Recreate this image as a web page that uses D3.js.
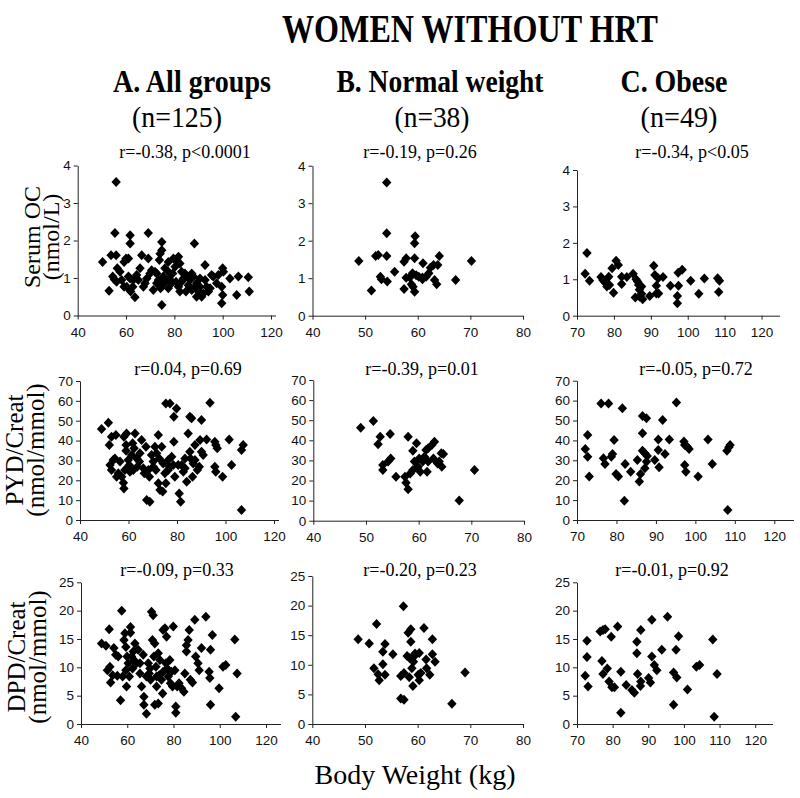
<!DOCTYPE html>
<html><head><meta charset="utf-8">
<script src="https://cdn.jsdelivr.net/npm/d3@7"></script>
<style>body{margin:0;background:#fff}</style>
</head><body>
<svg id="c" width="800" height="798"></svg>
<script>
// ---------- DATA ([body weight kg, value]) ----------
const groupTitles = ["A. All groups", "B. Normal weight", "C. Obese"];
const groupN = ["(n=125)", "(n=38)", "(n=49)"];
const rowTitles = [["Serum OC", "(nmol/L)"], ["PYD/Creat", "(nmol/mmol)"], ["DPD/Creat", "(nmol/mmol)"]];
const stats = [
  ["r=-0.38, p<0.0001", "r=-0.19, p=0.26", "r=-0.34, p<0.05"],
  ["r=0.04, p=0.69", "r=-0.39, p=0.01", "r=-0.05, p=0.72"],
  ["r=-0.09, p=0.33", "r=-0.20, p=0.23", "r=-0.01, p=0.92"]
];
const xTicksAll = [40, 60, 80, 100, 120];
const xTicksNormal = [40, 50, 60, 70, 80];
const xTicksObese = [70, 80, 90, 100, 110, 120];
const yTicksOC = [0, 1, 2, 3, 4];
const yTicksPYD = [0, 10, 20, 30, 40, 50, 60, 70];
const yTicksDPD = [0, 5, 10, 15, 20, 25];

const ocAll = [[50.3,1.43],[53.0,0.66],[53.8,1.61],[55.9,1.61],[55.4,2.20],[55.9,3.56],[54.5,1.04],[55.2,0.96],[56.1,0.90],[57.5,1.17],[59.2,1.43],[60.0,1.52],[61.0,1.52],[59.2,0.77],[60.3,0.77],[61.0,1.04],[61.7,0.99],[61.7,2.14],[61.7,1.92],[61.9,0.64],[63.7,0.49],[63.0,0.95],[64.4,1.08],[65.1,0.95],[65.8,1.26],[66.5,1.61],[67.2,0.77],[67.9,0.86],[69.2,2.20],[69.2,1.52],[69.9,1.12],[70.6,1.21],[71.3,0.68],[72.0,1.17],[72.7,1.12],[73.8,1.48],[74.1,1.65],[74.8,1.96],[74.8,1.74],[74.8,0.28],[75.4,1.04],[76.1,1.26],[76.8,0.95],[77.5,1.17],[77.5,0.73],[78.2,0.96],[78.9,0.86],[79.6,1.52],[80.3,1.30],[81.0,1.48],[81.7,1.57],[82.3,1.39],[81.7,0.77],[82.3,0.64],[83.0,0.90],[83.7,0.99],[84.4,1.12],[85.1,1.04],[85.8,0.81],[87.2,1.12],[87.9,1.04],[88.3,1.92],[88.6,0.77],[89.2,0.50],[89.9,0.64],[90.6,0.77],[91.3,0.50],[92.0,0.59],[92.7,1.35],[92.7,0.95],[93.4,0.77],[94.1,0.64],[95.4,1.08],[97.5,0.86],[100.0,1.26],[100.3,1.17],[99.6,0.77],[100.0,0.55],[99.6,0.33],[103.0,0.99],[106.5,1.04],[105.8,0.55],[110.6,1.02],[111.0,0.64],[56.4,1.26],[58.2,0.95],[62.8,0.77],[68.6,0.99],[73.4,0.95],[74.3,0.73],[75.7,0.86],[79.3,1.12],[80.7,0.90],[83.0,1.17],[86.5,0.95],[89.2,0.86],[90.6,0.99],[94.8,0.73],[96.1,1.04],[98.2,1.08],[87.2,0.68],[84.8,0.64],[77.5,1.43],[72.7,0.86]];
const ocNormal = [[48.8,1.46],[51.2,0.67],[52.0,1.59],[52.5,1.62],[52.9,1.04],[53.1,0.97],[54.1,3.55],[54.1,2.2],[54.1,1.59],[54.2,0.91],[55.6,1.17],[57.4,1.44],[57.8,1.53],[57.4,0.71],[57.8,1.01],[58.5,1.02],[58.8,0.84],[59.1,0.77],[59.4,0.64],[59.0,1.13],[59.4,1.93],[59.5,2.12],[59.4,1.53],[59.7,1.08],[60.2,1.04],[60.9,1.02],[60.9,0.97],[61.0,1.40],[61.6,1.04],[62.1,1.13],[62.4,1.28],[63.0,1.35],[63.2,0.95],[63.6,0.84],[63.8,1.35],[64.1,1.59],[67.2,0.95],[70.2,1.46]];
const ocObese = [[72.7,1.72],[72.2,1.15],[73.4,0.96],[76.5,1.06],[77.0,0.98],[77.6,0.91],[78.1,0.80],[78.6,1.07],[78.8,0.84],[79.5,1.30],[79.9,0.63],[80.6,1.51],[81.2,1.39],[82.1,1.07],[82.1,0.87],[83.5,1.06],[85.2,1.15],[86.0,1.0],[85.8,0.50],[86.4,0.94],[86.7,0.84],[86.9,0.71],[87.0,0.52],[87.5,0.80],[87.8,0.45],[87.5,0.60],[89.7,0.54],[90.8,1.37],[91.1,1.12],[91.5,0.61],[91.5,0.82],[92.0,1.03],[92.1,0.61],[93.3,1.06],[95.3,0.82],[97.4,1.18],[97.5,0.82],[97.2,0.54],[97.2,0.34],[98.5,1.26],[100.8,0.96],[103.0,0.60],[104.5,1.02],[108.1,1.03],[108.6,0.96],[108.4,0.65]];

const pydAll = [[48.9,45.8],[51.7,49.0],[52.1,37.8],[53.0,41.9],[54.8,42.8],[52.4,27.7],[53.0,25.2],[53.7,30.2],[54.4,31.0],[55.1,21.8],[55.8,23.5],[57.2,21.8],[57.9,18.8],[58.1,15.9],[58.5,25.2],[58.1,41.9],[59.2,43.6],[59.0,37.8],[59.0,34.9],[59.9,30.2],[60.3,27.7],[60.6,24.3],[61.3,32.7],[61.7,38.6],[62.3,36.1],[62.7,43.6],[63.4,31.0],[63.6,26.8],[64.5,29.4],[65.4,40.3],[66.1,26.0],[66.5,23.5],[67.2,36.9],[67.5,10.1],[68.8,9.2],[68.2,25.2],[68.6,21.8],[69.5,32.7],[70.2,29.4],[70.9,36.9],[71.3,25.2],[72.3,42.8],[72.3,18.5],[72.7,31.0],[73.0,15.1],[73.7,36.9],[74.1,14.3],[74.3,28.5],[75.0,23.5],[75.4,18.5],[75.4,58.7],[77.1,58.7],[76.4,30.2],[76.8,26.8],[77.8,31.9],[78.5,27.7],[78.7,52.0],[78.7,39.4],[79.1,21.8],[79.8,56.2],[80.5,27.7],[80.9,13.4],[81.5,9.2],[81.9,27.7],[82.6,24.3],[83.3,26.0],[84.0,19.3],[84.6,43.6],[85.3,52.0],[86.0,51.2],[85.3,34.4],[85.6,31.0],[86.4,21.8],[86.7,28.5],[87.4,30.2],[88.4,25.2],[89.2,26.8],[89.5,40.3],[90.1,50.3],[90.1,34.4],[90.8,32.7],[92.2,40.6],[93.6,59.1],[95.6,39.4],[96.0,37.8],[96.6,36.1],[95.6,26.8],[96.0,24.3],[98.8,21.8],[101.5,40.6],[102.5,27.7],[106.6,35.2],[107.3,37.8],[106.6,5.0],[62.0,25.2],[64.7,33.6],[70.2,26.8],[71.6,33.6],[76.4,25.2],[83.3,31.0],[87.4,37.8],[56.5,29.4]];
const pydNormal = [[49.0,46.3],[51.4,49.6],[52.7,41.8],[52.3,38.0],[54.6,43.1],[53.2,27.7],[53.2,25.2],[54.2,29.4],[54.7,31.0],[55.7,21.9],[58.0,41.8],[57.4,21.9],[57.6,18.9],[58.0,15.6],[58.4,23.5],[58.9,25.2],[58.9,34.8],[59.2,29.4],[59.6,38.5],[59.9,26.9],[60.1,31.0],[60.3,24.4],[60.8,29.4],[61.1,31.8],[61.4,35.2],[61.8,36.0],[61.6,24.4],[62.5,37.6],[63.0,39.3],[62.8,31.0],[63.6,28.5],[63.9,29.4],[64.3,33.5],[64.7,33.2],[64.4,26.9],[67.7,10.0],[70.6,25.2],[61.8,29.4]];
const pydObese = [[72.1,35.7],[72.7,42.7],[72.7,31.8],[73.1,21.8],[76.1,58.6],[76.7,31.0],[77.1,28.1],[78.0,58.6],[78.7,31.8],[79.0,33.2],[79.4,40.2],[79.9,23.1],[80.5,21.8],[81.5,56.1],[82.2,28.1],[82.0,9.7],[83.6,24.3],[85.3,30.2],[85.8,19.3],[86.1,23.1],[86.6,52.3],[86.6,43.6],[86.6,34.8],[87.2,33.5],[87.6,51.1],[87.6,29.3],[87.2,26.0],[87.8,32.2],[89.7,30.2],[90.6,40.5],[90.6,35.2],[90.8,26.5],[91.7,50.3],[92.3,33.2],[93.4,40.5],[95.2,59.0],[97.1,39.4],[97.3,37.7],[97.9,36.9],[98.4,35.7],[97.3,27.6],[97.6,24.3],[100.7,21.8],[103.2,40.5],[104.3,28.1],[108.0,34.8],[108.5,36.5],[108.8,37.7],[108.2,5.0]];

const dpdAll = [[48.9,14.2],[50.8,13.8],[52.2,16.7],[51.4,9.5],[52.5,10.1],[52.8,7.3],[53.7,8.6],[54.2,13.4],[55.0,12.2],[55.7,8.5],[56.1,11.9],[57.1,4.2],[57.6,20.0],[58.0,8.4],[58.6,14.8],[59.0,16.0],[59.4,13.6],[59.4,9.5],[59.7,6.6],[59.9,11.9],[60.4,10.7],[60.9,8.4],[61.4,17.1],[61.4,16.1],[61.9,11.9],[62.3,9.8],[62.9,11.3],[63.3,14.2],[64.0,10.7],[64.7,13.1],[65.5,8.9],[66.2,6.6],[66.9,12.2],[67.2,4.8],[67.2,3.4],[68.3,1.8],[69.1,10.7],[69.5,8.9],[70.1,7.8],[70.5,19.8],[71.2,19.2],[70.9,14.8],[71.9,14.2],[71.5,11.9],[72.4,10.1],[72.7,6.6],[71.9,3.4],[73.4,3.6],[73.8,8.6],[74.1,11.3],[74.8,7.8],[75.3,5.4],[75.5,16.6],[76.3,16.9],[77.0,15.4],[76.7,10.7],[77.3,9.8],[77.7,8.4],[78.4,11.3],[78.7,7.2],[79.6,6.6],[79.9,17.2],[80.6,9.5],[81.0,3.1],[81.0,2.0],[81.6,6.6],[82.4,7.2],[83.5,6.3],[84.5,5.7],[84.9,8.9],[85.6,13.9],[85.6,12.8],[86.3,14.8],[86.8,16.6],[87.3,7.8],[88.2,7.3],[89.2,18.4],[89.6,11.9],[90.6,10.7],[91.1,9.5],[92.1,13.4],[94.0,18.9],[95.4,9.2],[95.7,8.1],[96.0,13.1],[96.0,3.4],[96.8,15.7],[101.4,10.1],[102.6,10.4],[99.7,6.3],[106.5,14.9],[107.5,8.9],[106.9,1.3],[68.3,8.4],[69.8,9.8],[73.4,12.5],[75.5,9.2],[65.5,10.7],[62.6,12.8],[79.1,9.2],[72.7,8.4]];
const dpdNormal = [[48.7,14.3],[50.8,13.6],[52.2,16.9],[51.7,9.4],[52.5,8.4],[52.7,7.4],[53.4,10.1],[53.4,12.2],[53.8,13.5],[53.8,8.3],[55.3,11.8],[56.8,8.1],[56.8,4.3],[57.3,19.9],[57.4,8.6],[57.4,4.1],[58.0,11.5],[58.2,15.4],[58.4,7.9],[58.5,11.1],[58.7,16.0],[58.7,13.9],[58.9,9.4],[59.1,6.4],[59.2,10.5],[59.3,11.4],[59.5,11.9],[60.1,8.3],[60.3,12.0],[60.3,7.4],[60.6,8.6],[61.2,16.2],[61.6,10.9],[61.7,9.4],[62.3,8.3],[62.8,14.3],[62.8,11.8],[63.3,10.5],[66.5,3.4],[69.0,8.7]];
const dpdObese = [[72.3,8.5],[72.8,14.7],[72.8,11.8],[73.1,6.6],[76.5,16.3],[77.3,16.6],[77.9,16.7],[77.0,11.1],[77.3,8.8],[78.5,9.8],[79.0,7.5],[79.6,15.4],[79.8,6.5],[80.5,6.5],[81.4,17.2],[82.3,9.2],[82.3,2.0],[83.8,6.9],[85.4,6.0],[86.1,5.5],[86.8,12.5],[86.8,14.5],[87.0,8.8],[87.9,16.6],[87.9,7.5],[87.8,6.7],[90.1,8.1],[90.6,7.3],[91.0,18.4],[91.0,11.9],[91.7,10.4],[92.4,9.5],[93.8,13.1],[95.4,18.9],[97.1,9.1],[97.1,3.4],[97.8,13.1],[98.0,8.2],[98.5,15.5],[101.0,6.1],[103.5,10.1],[104.4,10.4],[108.1,14.9],[108.5,1.3],[109.3,8.8]];

// ---------- LAYOUT ----------
const svg = d3.select("#c");
const serif = "'Liberation Serif','Times New Roman',serif";
const sans = "'Liberation Sans',Arial,sans-serif";

const panels = [
  // row 1
  {d: ocAll,    xd:[40,120], xr:[77.7,271], xEnd:276, xt:xTicksAll,    yd:[0,4],  yr:[315.5,165.5], yt:yTicksOC,  s:stats[0][0], sx:185, sy:158},
  {d: ocNormal, xd:[40,80],  xr:[312.5,523], xEnd:523, xt:xTicksNormal, yd:[0,4],  yr:[315.7,165.7], yt:yTicksOC,  s:stats[0][1], sx:420, sy:158},
  {d: ocObese,  xd:[70,125], xr:[577,780], xEnd:780, xt:xTicksObese,  yd:[0,4],  yr:[315.7,170],   yt:yTicksOC,  s:stats[0][2], sx:692, sy:158},
  // row 2
  {d: pydAll,    xd:[40,120], xr:[80,274], xEnd:279, xt:xTicksAll,    yd:[0,70], yr:[520,381],   yt:yTicksPYD, s:stats[1][0], sx:188, sy:375},
  {d: pydNormal, xd:[40,80],  xr:[313.3,524], xEnd:524, xt:xTicksNormal, yd:[0,70], yr:[520.7,380], yt:yTicksPYD, s:stats[1][1], sx:422, sy:375},
  {d: pydObese,  xd:[70,125], xr:[577,794], xEnd:794, xt:xTicksObese,  yd:[0,70], yr:[520,380.7], yt:yTicksPYD, s:stats[1][2], sx:696, sy:375},
  // row 3
  {d: dpdAll,    xd:[40,120], xr:[81,266], xEnd:281, xt:xTicksAll,    yd:[0,25], yr:[724,582.3], yt:yTicksDPD, s:stats[2][0], sx:177, sy:576},
  {d: dpdNormal, xd:[40,80],  xr:[312.3,523], xEnd:523, xt:xTicksNormal, yd:[0,25], yr:[724,576], yt:yTicksDPD, s:stats[2][1], sx:420, sy:576},
  {d: dpdObese,  xd:[70,125], xr:[577,773], xEnd:773, xt:xTicksObese,  yd:[0,25], yr:[724,582.3], yt:yTicksDPD, s:stats[2][2], sx:672, sy:576}
];

const diamond = "M0,-5L4.7,0L0,5L-4.7,0Z";

panels.forEach(p => {
  const x = d3.scaleLinear().domain(p.xd).range(p.xr);
  const y = d3.scaleLinear().domain(p.yd).range(p.yr);
  const g = svg.append("g");

  // x axis
  const xa = g.append("g").attr("transform", `translate(0,${p.yr[0]})`)
    .call(d3.axisBottom(x).tickValues(p.xt).tickSize(4).tickSizeOuter(0).tickFormat(d3.format("d")));
  xa.select(".domain").remove();
  xa.append("line").attr("x1", p.xr[0]).attr("x2", p.xEnd).attr("y1", 0.5).attr("y2", 0.5)
    .attr("stroke", "#222").attr("stroke-width", 1);
  xa.selectAll(".tick line").attr("stroke", "#222");
  xa.selectAll(".tick text").attr("font-family", sans).attr("font-size", 13.5).attr("fill", "#111").attr("dy", "1.05em");

  // y axis
  const ya = g.append("g").attr("transform", `translate(${p.xr[0]},0)`)
    .call(d3.axisLeft(y).tickValues(p.yt).tickSize(4).tickSizeOuter(0).tickFormat(d3.format("d")));
  ya.select(".domain").attr("stroke", "#222");
  ya.selectAll(".tick line").attr("stroke", "#222");
  ya.selectAll(".tick text").attr("font-family", sans).attr("font-size", 13.5).attr("fill", "#111").attr("x", -7);

  // points
  g.append("g").selectAll("path").data(p.d).enter().append("path")
    .attr("d", diamond)
    .attr("transform", d => `translate(${x(d[0])},${y(d[1])})`)
    .attr("fill", "#000");

  // stats text
  g.append("text").attr("x", p.sx).attr("y", p.sy).attr("text-anchor", "middle")
    .attr("font-family", serif).attr("font-size", 18).attr("fill", "#000").text(p.s);
});

// Title
svg.append("text").attr("x", 470).attr("y", 42).attr("text-anchor", "middle")
  .attr("font-family", serif).attr("font-weight", "bold").attr("font-size", 40)
  .attr("textLength", 376).attr("lengthAdjust", "spacingAndGlyphs").text("WOMEN WITHOUT HRT");

// Group headings
const headX = [192, 440, 674], headW = [158, 207, 107];
const nX = [177, 432, 679], nW = [90, 75, 77];
groupTitles.forEach((t, i) => {
  svg.append("text").attr("x", headX[i]).attr("y", 92).attr("text-anchor", "middle")
    .attr("font-family", serif).attr("font-weight", "bold").attr("font-size", 32)
    .attr("textLength", headW[i]).attr("lengthAdjust", "spacingAndGlyphs").text(t);
  svg.append("text").attr("x", nX[i]).attr("y", 127).attr("text-anchor", "middle")
    .attr("font-family", serif).attr("font-size", 30)
    .attr("textLength", nW[i]).attr("lengthAdjust", "spacingAndGlyphs").text(groupN[i]);
});

// Row y-axis titles (rotated)
const rowCenterY = [237, 450, 657];
const rowLineX = [[40, 59], [23, 44], [25, 46]];
const rowFont = [24, 25, 25];
rowTitles.forEach((lines, r) => {
  lines.forEach((t, k) => {
    svg.append("text")
      .attr("transform", `translate(${rowLineX[r][k]},${rowCenterY[r]}) rotate(-90)`)
      .attr("text-anchor", "middle").attr("font-family", serif).attr("font-size", rowFont[r])
      .text(t);
  });
});

// X axis title
svg.append("text").attr("x", 415).attr("y", 784).attr("text-anchor", "middle")
  .attr("font-family", serif).attr("font-size", 28).text("Body Weight (kg)");
</script>
</body></html>
